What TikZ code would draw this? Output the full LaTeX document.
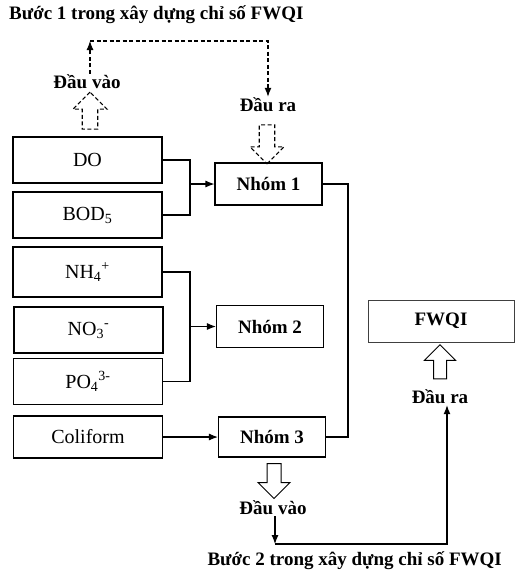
\documentclass[tikz,border=0pt]{standalone}
\usepackage{fontspec}
\setmainfont{Liberation Serif}
\usetikzlibrary{arrows.meta,shapes.arrows}

\tikzset{
  item/.style={draw, line width=1.1pt, minimum width=149pt, minimum height=46pt, inner sep=0pt, font=\fontsize{20}{24}\selectfont},
  group/.style={draw, line width=1.1pt, minimum width=107pt, minimum height=42pt, inner sep=0pt, font=\bfseries\fontsize{19}{23}\selectfont},
  lbl/.style={font=\bfseries\fontsize{19}{23}\selectfont, inner sep=1pt},
  wire/.style={line width=1.1pt},
  dashline/.style={line width=1.1pt, dash pattern=on 4pt off 2.5pt},
  fat/.style={draw, single arrow, line width=1pt, inner xsep=0pt, inner ysep=7pt, single arrow head extend=9pt, single arrow tip angle=90}
}

\begin{document}
\begin{tikzpicture}[x=1pt,y=-1pt,>={Latex[length=9pt,width=7pt]}]
  \useasboundingbox (0,0) rectangle (515,581);

  % step 1
  \node[lbl, anchor=west] (title1) at (8,15) {Bước 1 trong xây dựng chỉ số FWQI};

  \node[item] (do) at (87.5,160) {DO};
  \node[item] (bod) at (87.5,215) {BOD\textsubscript{5}};
  \node[item, minimum height=50pt] (nh) at (87.5,272) {NH\textsubscript{4}\textsuperscript{+}};
  \node[item] (no) at (88.5,330) {NO\textsubscript{3}\textsuperscript{-}};
  \node[item] (po) at (88,381.5) {PO\textsubscript{4}\textsuperscript{3-}};
  \node[item, minimum height=42pt] (coli) at (88,437) {Coliform};

  \node[group] (g1) at (268.5,184) {Nhóm 1};
  \node[group] (g2) at (270,326.5) {Nhóm 2};
  \node[group, minimum height=40pt] (g3) at (272,437) {Nhóm 3};

  \coordinate (j1) at (190,184);
  \coordinate (j2) at (190,326.5);
  \coordinate (j3) at (348,437);
  \draw[wire] (do.east) -| (j1) |- (bod.east);
  \draw[wire,->] (j1) -- (g1.west);
  \draw[wire] (nh.east) -| (j2) |- (po.east);
  \draw[wire,->] (j2) -- (g2.west);
  \draw[wire,->] (coli.east) -- (g3.west);
  \draw[wire] (g1.east) -| (j3) -- (g3.east);

  % inputs and outputs of step 1
  \node[lbl] (dv1) at (87,82) {Đầu vào};
  \node[lbl] (dr1) at (268,105) {Đầu ra};
  \node[fat, dashline, rotate=90, minimum width=34pt, minimum height=37pt] (up1) at (90,114.5) {};
  \node[fat, dashline, rotate=-90, minimum width=34pt, minimum height=39pt] (down1) at (267,140.5) {};
  \coordinate (c1) at (90,41);
  \draw[dashline,->] (dv1.north -| c1) -- (c1);
  \draw[dashline,->] (c1) -| (dr1.north);

  % step 2
  \node[draw=black!75, line width=0.9pt, minimum width=146pt, minimum height=42pt, lbl] (fwqi) at (441,321) {FWQI};
  \node[fat, rotate=90, minimum width=30pt, minimum height=34pt, inner ysep=6pt] (up2) at (440,365) {};
  \node[lbl] (dr2) at (440,397) {Đầu ra};
  \node[fat, rotate=-90, minimum width=28pt, minimum height=35pt, inner ysep=6.5pt] (down2) at (274,477.5) {};
  \node[lbl] (dv2) at (273,508) {Đầu vào};
  \coordinate (c2) at (275,544);
  \coordinate (c3) at (447,544);
  \draw[wire,->] (dv2.south -| c2) -- (c2);
  \draw[wire,->] (c2) -- (c3) -- (c3 |- dr2.south);

  \node[lbl, anchor=east] (title2) at (503,561) {Bước 2 trong xây dựng chỉ số FWQI};
\end{tikzpicture}
\end{document}
